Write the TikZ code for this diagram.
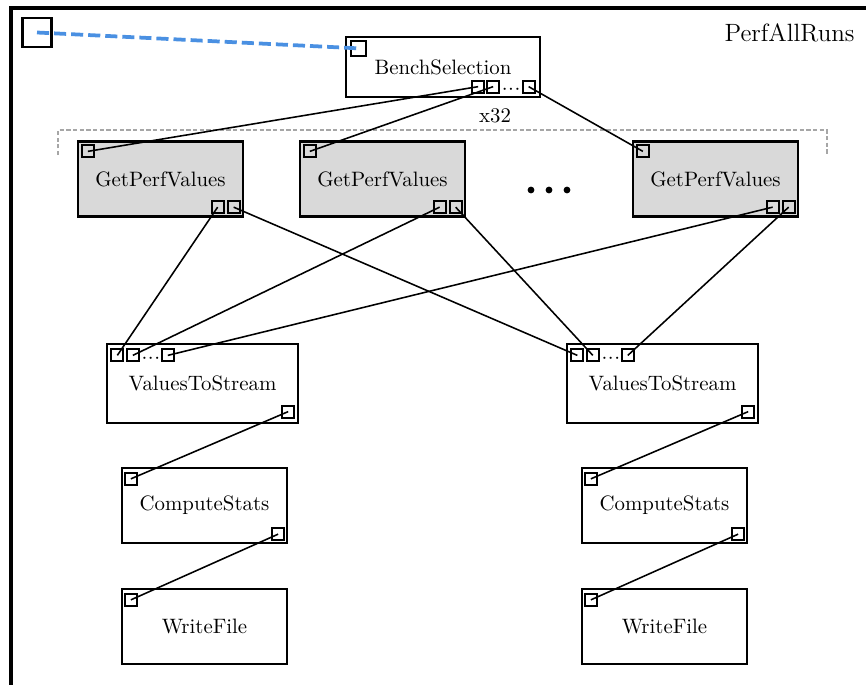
\documentclass[tikz,border=0pt]{standalone}
\usetikzlibrary{positioning, calc}
\definecolor{linkblue}{RGB}{74,144,226}
\definecolor{boxgray}{RGB}{217,217,217}
\tikzset{
  block/.style={draw, line width=1.1pt, minimum width=79.2pt, minimum height=36pt,
    inner sep=0pt, align=center},
  getbox/.style={block, fill=boxgray},
  port/.style={draw, line width=0.95pt, minimum size=5.8pt, inner sep=0pt},
  wire/.style={line width=0.75pt},
  portdots/.style={inner sep=0pt}
}
\newcommand{\portgap}{${\cdot}\mkern0.5mu{\cdot}\mkern0.5mu{\cdot}$}

\begin{document}
\begin{tikzpicture}[x=0.48pt, y=-0.48pt]
  \useasboundingbox (0,0) rectangle (866,684);
  % enclosing composite
  \draw[line width=2pt] (11,8) rectangle (960,760);
  \node[anchor=east, inner sep=0pt, font=\large] (title) at (855,33) {PerfAllRuns};
  \node[draw, line width=1.3pt, minimum size=13.9pt, inner sep=0pt] (src) at (37,32.5) {};

  % selection block
  \node[block, minimum width=93.1pt, minimum height=28.8pt] (bench) at (443,67) {BenchSelection};
  \node[port, minimum size=7.2pt] (bench-in) at ([shift={(13.5,12.5)}]bench.north west) {};
  \node[port] (bench-o1) at ([shift={(-63,-11.5)}]bench.south east) {};
  \node[port] (bench-o2) at ([shift={(-48,-11.5)}]bench.south east) {};
  \node[port] (bench-o3) at ([shift={(-12.5,-11.5)}]bench.south east) {};
  \node[portdots] (bench-dots) at ([shift={(-30,-8.5)}]bench.south east) {\portgap};
  \draw[linkblue, line width=1.8pt, dash pattern=on 5.8pt off 2.4pt] (src.center) -- (bench-in.center);

  % replicated runs
  \draw[gray!70, line width=0.5pt, dash pattern=on 2pt off 1.2pt] (58,155) -- (58,130) -- (827,130) -- (827,155);
  \node[inner sep=0pt] (reps) at (495,116) {x32};
  \foreach \n/\x in {1/160.5, 2/382.5, 3/715.5}{
    \node[getbox] (gpv\n) at (\x,179) {GetPerfValues};
    \node[port] (gpv\n-in) at ([shift={(11,11)}]gpv\n.north west) {};
    \node[port] (gpv\n-o1) at ([shift={(-26.5,-10.5)}]gpv\n.south east) {};
    \node[port] (gpv\n-o2) at ([shift={(-10.5,-10.5)}]gpv\n.south east) {};
  }
  \foreach \x in {531,549,567}
    \fill (\x,190) circle (3.4);

  % two output chains
  \foreach \n/\x/\c in {1/202.5/204.5, 2/662.5/664.5}{
    \node[block, minimum width=91.7pt, minimum height=37.9pt] (vts\n) at (\x,383.5) {ValuesToStream};
    \node[port] (vts\n-i1) at ([shift={(11.5,12.5)}]vts\n.north west) {};
    \node[port] (vts\n-i2) at ([shift={(27,12.5)}]vts\n.north west) {};
    \node[port] (vts\n-i3) at ([shift={(62,12.5)}]vts\n.north west) {};
    \node[portdots] (vts\n-dots) at ([shift={(45,15.5)}]vts\n.north west) {\portgap};
    \node[port] (vts\n-out) at ([shift={(-11,-12.5)}]vts\n.south east) {};
    \node[block] (cs\n) at (\c,505.5) {ComputeStats};
    \node[port] (cs\n-in) at ([shift={(10,12)}]cs\n.north west) {};
    \node[port] (cs\n-out) at ([shift={(-10,-10)}]cs\n.south east) {};
    \node[block] (wf\n) at (\c,626.5) {WriteFile};
    \node[port] (wf\n-in) at ([shift={(10,12)}]wf\n.north west) {};
  }

  % connections
  \foreach \n in {1,2,3}{
    \draw[wire] (bench-o\n.center) -- (gpv\n-in.center);
    \draw[wire] (gpv\n-o1.center) -- (vts1-i\n.center);
    \draw[wire] (gpv\n-o2.center) -- (vts2-i\n.center);
  }
  \foreach \n in {1,2}{
    \draw[wire] (vts\n-out.center) -- (cs\n-in.center);
    \draw[wire] (cs\n-out.center) -- (wf\n-in.center);
  }
\end{tikzpicture}
\end{document}
